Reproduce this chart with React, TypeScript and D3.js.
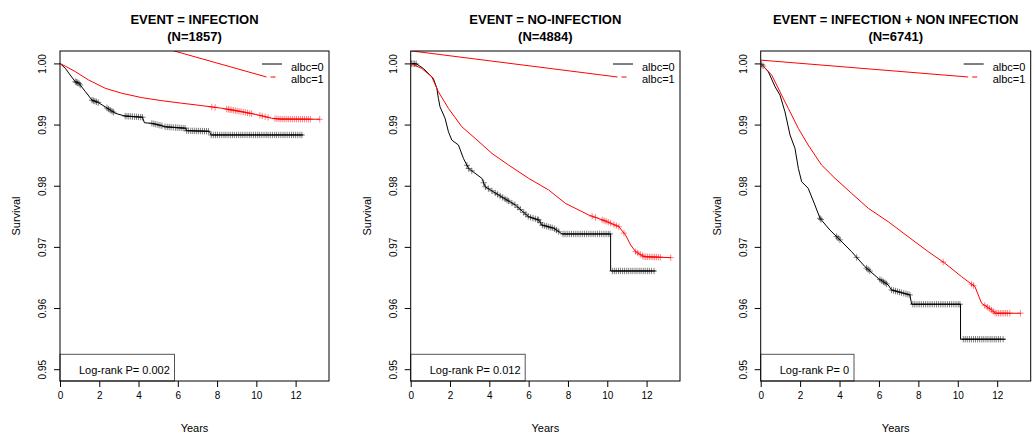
import * as d3 from 'd3'
import { useEffect, useRef } from 'react'

// panel texts
const titles = ['EVENT = INFECTION', 'EVENT = NO-INFECTION', 'EVENT = INFECTION + NON INFECTION']
const sampleSizes = ['(N=1857)', '(N=4884)', '(N=6741)']
const pValues = ['0.002', '0.012', '0']
const groupLabels = ['albc=0', 'albc=1']
const xTicks = [0, 2, 4, 6, 8, 10, 12]
const yTicks = [0.95, 0.96, 0.97, 0.98, 0.99, 1.0]

// EVENT = INFECTION
const infTime0 = [0, 0.27, 0.52, 0.78, 0.95, 1.29, 1.63, 1.95, 2.3, 2.81, 3.3, 4.2, 4.3, 4.68, 5.2, 5.3, 6.4, 6.45, 7.6, 7.7, 12.39]
const infSurv0 = [1, 0.9992, 0.9981, 0.997, 0.9968, 0.9954, 0.994, 0.9936, 0.9929, 0.99185, 0.9914, 0.9912, 0.9903, 0.9902, 0.9898, 0.98965, 0.9894, 0.989, 0.9889, 0.9883, 0.9883]
const infCens0 = [0.78, 0.84, 0.9, 0.97, 1.03, 1.63, 1.7, 1.78, 1.86, 1.95, 2.39, 2.47, 2.56, 2.65, 2.73, 3.32, 3.41, 3.5, 3.6, 3.69, 3.8, 3.9, 4.0, 4.11, 4.2, 4.68, 4.78, 4.88, 4.99, 5.09, 5.19, 5.35, 5.46, 5.56, 5.66, 5.77, 5.88, 5.97, 6.07, 6.17, 6.27, 6.37, 6.45, 6.55, 6.66, 6.76, 6.86, 6.96, 7.06, 7.16, 7.26, 7.36, 7.46, 7.56, 7.7, 7.81, 7.92, 8.02, 8.13, 8.24, 8.35, 8.45, 8.56, 8.67, 8.78, 8.88, 8.99, 9.1, 9.21, 9.31, 9.42, 9.53, 9.64, 9.74, 9.85, 9.96, 10.07, 10.17, 10.28, 10.39, 10.5, 10.6, 10.71, 10.82, 10.93, 11.03, 11.14, 11.25, 11.36, 11.46, 11.57, 11.68, 11.79, 11.89, 12.0, 12.11, 12.22, 12.32]
const infTime1 = [0, 0.3, 0.78, 1.45, 2.3, 3.15, 4.17, 5.18, 6.2, 7.22, 8.24, 9.25, 10.1, 10.78, 11.2, 13.23]
const infSurv1 = [1, 0.9995, 0.99866, 0.9973, 0.99594, 0.99512, 0.9944, 0.99391, 0.99349, 0.9931, 0.99267, 0.99211, 0.99157, 0.99103, 0.9909, 0.99087]
const infCens1 = [7.73, 7.9, 8.49, 8.58, 8.66, 8.75, 8.84, 8.93, 9.02, 9.12, 9.22, 9.33, 9.44, 9.55, 9.66, 9.76, 10.18, 10.3, 10.45, 10.6, 10.95, 11.05, 11.15, 11.25, 11.35, 11.45, 11.55, 11.65, 11.75, 11.85, 11.95, 12.05, 12.15, 12.25, 12.35, 12.45, 12.55, 12.65, 12.75, 13.23]

// EVENT = NO-INFECTION
const noTime0 = [0, 0.3, 0.64, 1.15, 1.33, 1.41, 1.49, 1.75, 1.92, 2.09, 2.43, 2.68, 2.94, 3.62, 3.79, 4.47, 5.32, 6.0, 6.51, 6.68, 7.28, 7.7, 10.17, 10.17, 12.46]
const noSurv0 = [1, 0.9999, 0.99918, 0.99755, 0.99592, 0.99428, 0.99291, 0.99101, 0.98882, 0.98747, 0.98665, 0.98448, 0.98284, 0.98121, 0.97984, 0.97848, 0.97685, 0.97493, 0.9744, 0.97358, 0.97304, 0.97211, 0.97211, 0.96606, 0.96606]
const noCens0 = [0.04, 0.12, 0.2, 0.28, 2.86, 2.95, 3.11, 3.71, 3.8, 3.95, 4.13, 4.3, 4.42, 4.55, 4.68, 4.8, 4.9, 4.98, 5.15, 5.3, 5.45, 5.58, 5.75, 5.86, 5.98, 6.1, 6.22, 6.34, 6.45, 6.51, 6.6, 6.7, 6.8, 6.9, 7.0, 7.1, 7.2, 7.31, 7.42, 7.53, 7.75, 7.85, 7.96, 8.07, 8.18, 8.29, 8.4, 8.51, 8.62, 8.73, 8.84, 8.95, 9.06, 9.17, 9.28, 9.39, 9.5, 9.61, 9.72, 9.83, 9.94, 10.05, 10.14, 10.26, 10.36, 10.46, 10.57, 10.67, 10.78, 10.88, 10.99, 11.09, 11.2, 11.3, 11.41, 11.51, 11.62, 11.72, 11.83, 11.93, 12.04, 12.14, 12.25, 12.38]
const noTime1 = [0, 0.56, 1.07, 1.41, 1.92, 2.6, 3.28, 4.13, 4.98, 6.0, 7.02, 7.87, 9.06, 9.91, 10.59, 10.93, 11.19, 11.44, 11.87, 13.23]
const noSurv1 = [1, 0.99918, 0.99782, 0.99536, 0.99265, 0.98964, 0.98775, 0.98529, 0.98338, 0.98121, 0.9793, 0.97712, 0.97521, 0.97423, 0.9733, 0.97194, 0.97031, 0.96922, 0.9684, 0.96824]
const noCens1 = [9.23, 9.4, 9.74, 9.84, 9.94, 10.05, 10.17, 10.34, 10.46, 10.59, 10.85, 11.44, 11.55, 11.68, 11.79, 11.87, 11.96, 12.05, 12.14, 12.23, 12.32, 12.41, 12.5, 12.6, 12.7, 13.23]

// EVENT = INFECTION + NON INFECTION
const allTime0 = [0, 0.39, 0.73, 0.98, 1.23, 1.49, 1.74, 1.91, 2.08, 2.41, 2.75, 3.01, 3.51, 3.94, 4.61, 5.29, 5.96, 6.47, 6.64, 7.57, 7.66, 10.14, 10.14, 12.42]
const allSurv0 = [1, 0.99863, 0.99618, 0.99482, 0.99209, 0.98828, 0.98611, 0.98284, 0.98065, 0.97958, 0.97685, 0.97467, 0.97276, 0.97141, 0.96922, 0.96676, 0.96487, 0.96377, 0.96296, 0.96214, 0.96062, 0.96062, 0.9549, 0.9549]
const allCens0 = [0.05, 0.12, 3.01, 3.06, 3.85, 3.93, 4.02, 4.87, 5.37, 5.45, 5.54, 6.05, 6.14, 6.23, 6.31, 6.39, 6.64, 6.74, 6.84, 6.94, 7.04, 7.14, 7.26, 7.37, 7.47, 7.57, 7.72, 7.82, 7.93, 8.04, 8.15, 8.26, 8.37, 8.48, 8.59, 8.7, 8.81, 8.92, 9.03, 9.14, 9.25, 9.36, 9.47, 9.58, 9.69, 9.8, 9.91, 10.02, 10.11, 10.28, 10.38, 10.48, 10.59, 10.69, 10.8, 10.9, 11.01, 11.11, 11.22, 11.32, 11.43, 11.53, 11.64, 11.74, 11.85, 11.95, 12.06, 12.16, 12.3]
const allTime1 = [0, 0.56, 1.06, 1.4, 1.91, 2.41, 3.09, 3.77, 4.61, 5.46, 6.47, 7.48, 8.5, 9.35, 10.19, 10.87, 11.04, 11.21, 11.71, 11.9, 13.18]
const allSurv1 = [1, 0.99809, 0.99482, 0.99265, 0.98938, 0.98665, 0.98338, 0.98121, 0.97876, 0.97631, 0.97412, 0.97167, 0.96922, 0.96732, 0.96513, 0.9635, 0.96214, 0.96078, 0.95969, 0.95915, 0.95915]
const allCens1 = [9.26, 10.7, 10.8, 11.37, 11.5, 11.6, 11.71, 11.8, 11.89, 11.98, 12.07, 12.16, 12.25, 12.34, 12.43, 12.52, 12.64, 13.18]

// start of the stray red legend segment, in data units (years, survival)
const strayStart = [
  [0, 1.0073],
  [0, 1.00206],
  [0, 1.00054],
]

const curves = [
  [
    { time: infTime0, surv: infSurv0, cens: infCens0 },
    { time: infTime1, surv: infSurv1, cens: infCens1 },
  ],
  [
    { time: noTime0, surv: noSurv0, cens: noCens0 },
    { time: noTime1, surv: noSurv1, cens: noCens1 },
  ],
  [
    { time: allTime0, surv: allSurv0, cens: allCens0 },
    { time: allTime1, surv: allSurv1, cens: allCens1 },
  ],
]

const colors = ['#000000', '#FF0000']
const font = '"Liberation Sans", Arial, sans-serif'

// plot box of each panel, in page pixels
const boxes = [
  { left: 60, right: 329, legendBoxW: 114.5 },
  { left: 410.7, right: 680, legendBoxW: 114.5 },
  { left: 760.7, right: 1030.7, legendBoxW: 93.3 },
]
const top = 51
const bottom = 381

// survival on the drawn curve at a censoring time
const survAt = (time: number[], surv: number[], t: number) => {
  let i = 0
  while (i < time.length - 1 && time[i + 1] <= t) i++
  if (i === time.length - 1) return surv[i]
  const f = (t - time[i]) / (time[i + 1] - time[i])
  return surv[i] + f * (surv[i + 1] - surv[i])
}

const App = () => {
  const svgRef = useRef<SVGSVGElement>(null)

  useEffect(() => {
    const svg = d3.select(svgRef.current)
    svg.selectAll('*').remove()

    boxes.forEach((b, p) => {
      const x = d3.scaleLinear().domain([0, 13.7]).range([b.left, b.right])
      const y = d3.scaleLinear().domain([0.94807, 1.00203]).range([bottom, top])
      const g = svg.append('g')
      const cx = (b.left + b.right) / 2

      // clip
      svg
        .append('clipPath')
        .attr('id', `clip${p}`)
        .append('rect')
        .attr('x', b.left)
        .attr('y', top)
        .attr('width', b.right - b.left)
        .attr('height', bottom - top)

      // title
      g.append('text')
        .attr('x', cx)
        .attr('y', 23.7)
        .attr('text-anchor', 'middle')
        .style('font-weight', 'bold')
        .style('font-size', '13px')
        .text(titles[p])
      g.append('text')
        .attr('x', cx)
        .attr('y', 40.5)
        .attr('text-anchor', 'middle')
        .style('font-weight', 'bold')
        .style('font-size', '13px')
        .text(sampleSizes[p])

      // x axis
      const xAxis = d3.axisBottom(x).tickValues(xTicks).tickSize(6).tickPadding(5).tickFormat(d3.format('d'))
      const xg = g.append('g').attr('transform', `translate(0, ${bottom})`).call(xAxis)
      xg.selectAll('text').style('font-size', '10px').style('font-family', font).attr('fill', '#000')
      xg.select('.domain').remove()

      // y axis
      const yAxis = d3.axisLeft(y).tickValues(yTicks).tickSize(6).tickFormat(d3.format('.2f'))
      const yg = g.append('g').attr('transform', `translate(${b.left}, 0)`).call(yAxis)
      yg.select('.domain').remove()
      yg.selectAll('.tick text')
        .attr('x', 0)
        .attr('dy', null)
        .attr('text-anchor', 'middle')
        .attr('transform', 'translate(-14, 0) rotate(-90)')
        .attr('y', 0)
        .style('font-size', '10px')
        .style('font-family', font)
        .attr('fill', '#000')

      // axis titles
      g.append('text')
        .attr('x', cx)
        .attr('y', 432)
        .attr('text-anchor', 'middle')
        .style('font-size', '11px')
        .text('Years')
      g.append('text')
        .attr('transform', `translate(${b.left - 40}, ${(top + bottom) / 2}) rotate(-90)`)
        .attr('text-anchor', 'middle')
        .style('font-size', '11px')
        .text('Survival')

      const plot = g.append('g').attr('clip-path', `url(#clip${p})`)

      // survival curves
      curves[p].forEach((c, k) => {
        const pts = c.time.map((t, i) => [t, c.surv[i]] as [number, number])
        plot
          .append('path')
          .attr('d', d3.line<[number, number]>().x((d) => x(d[0])).y((d) => y(d[1]))(pts))
          .attr('fill', 'none')
          .attr('stroke', colors[k])
          .attr('stroke-width', 1)

        // censoring marks
        plot
          .append('g')
          .selectAll('path')
          .data(c.cens)
          .enter()
          .append('path')
          .attr('d', (t) => {
            const px = x(t)
            const py = y(survAt(c.time, c.surv, t))
            return `M${px - 3},${py}H${px + 3}M${px},${py - 3.2}V${py + 3.2}`
          })
          .attr('stroke', colors[k])
          .attr('stroke-width', 0.6)
          .attr('stroke-opacity', 0.85)
          .attr('fill', 'none')
      })

      // legend
      const lx0 = b.right - 67
      const lx1 = b.right - 47
      plot
        .append('line')
        .attr('x1', lx0)
        .attr('x2', lx1)
        .attr('y1', top + 13)
        .attr('y2', top + 13)
        .attr('stroke', colors[0])
      plot
        .append('line')
        .attr('x1', x(strayStart[p][0]))
        .attr('y1', y(strayStart[p][1]))
        .attr('x2', lx0 + 4.5)
        .attr('y2', top + 26)
        .attr('stroke', colors[1])
      plot
        .append('line')
        .attr('x1', lx0 + 8.5)
        .attr('x2', lx0 + 13.5)
        .attr('y1', top + 26)
        .attr('y2', top + 26)
        .attr('stroke', colors[1])
      groupLabels.forEach((l, k) => {
        g.append('text')
          .attr('x', b.right - 38)
          .attr('y', top + 20 + k * 12)
          .style('font-size', '11px')
          .text(l)
      })

      // log-rank box
      g.append('rect')
        .attr('x', b.left)
        .attr('y', 354.3)
        .attr('width', b.legendBoxW)
        .attr('height', bottom - 354.3)
        .attr('fill', 'none')
        .attr('stroke', '#555')
      g.append('text')
        .attr('x', b.left + 19)
        .attr('y', 374)
        .style('font-size', '11px')
        .text(`Log-rank P= ${pValues[p]}`)

      // plot frame
      g.append('rect')
        .attr('x', b.left)
        .attr('y', top)
        .attr('width', b.right - b.left)
        .attr('height', bottom - top)
        .attr('fill', 'none')
        .attr('stroke', '#000')
    })
  }, [])

  return (
    <svg
      ref={svgRef}
      width={1035}
      height={439}
      style={{ position: 'absolute', left: 0, top: 0, background: '#fff', fontFamily: font }}
    />
  )
}

export default App
